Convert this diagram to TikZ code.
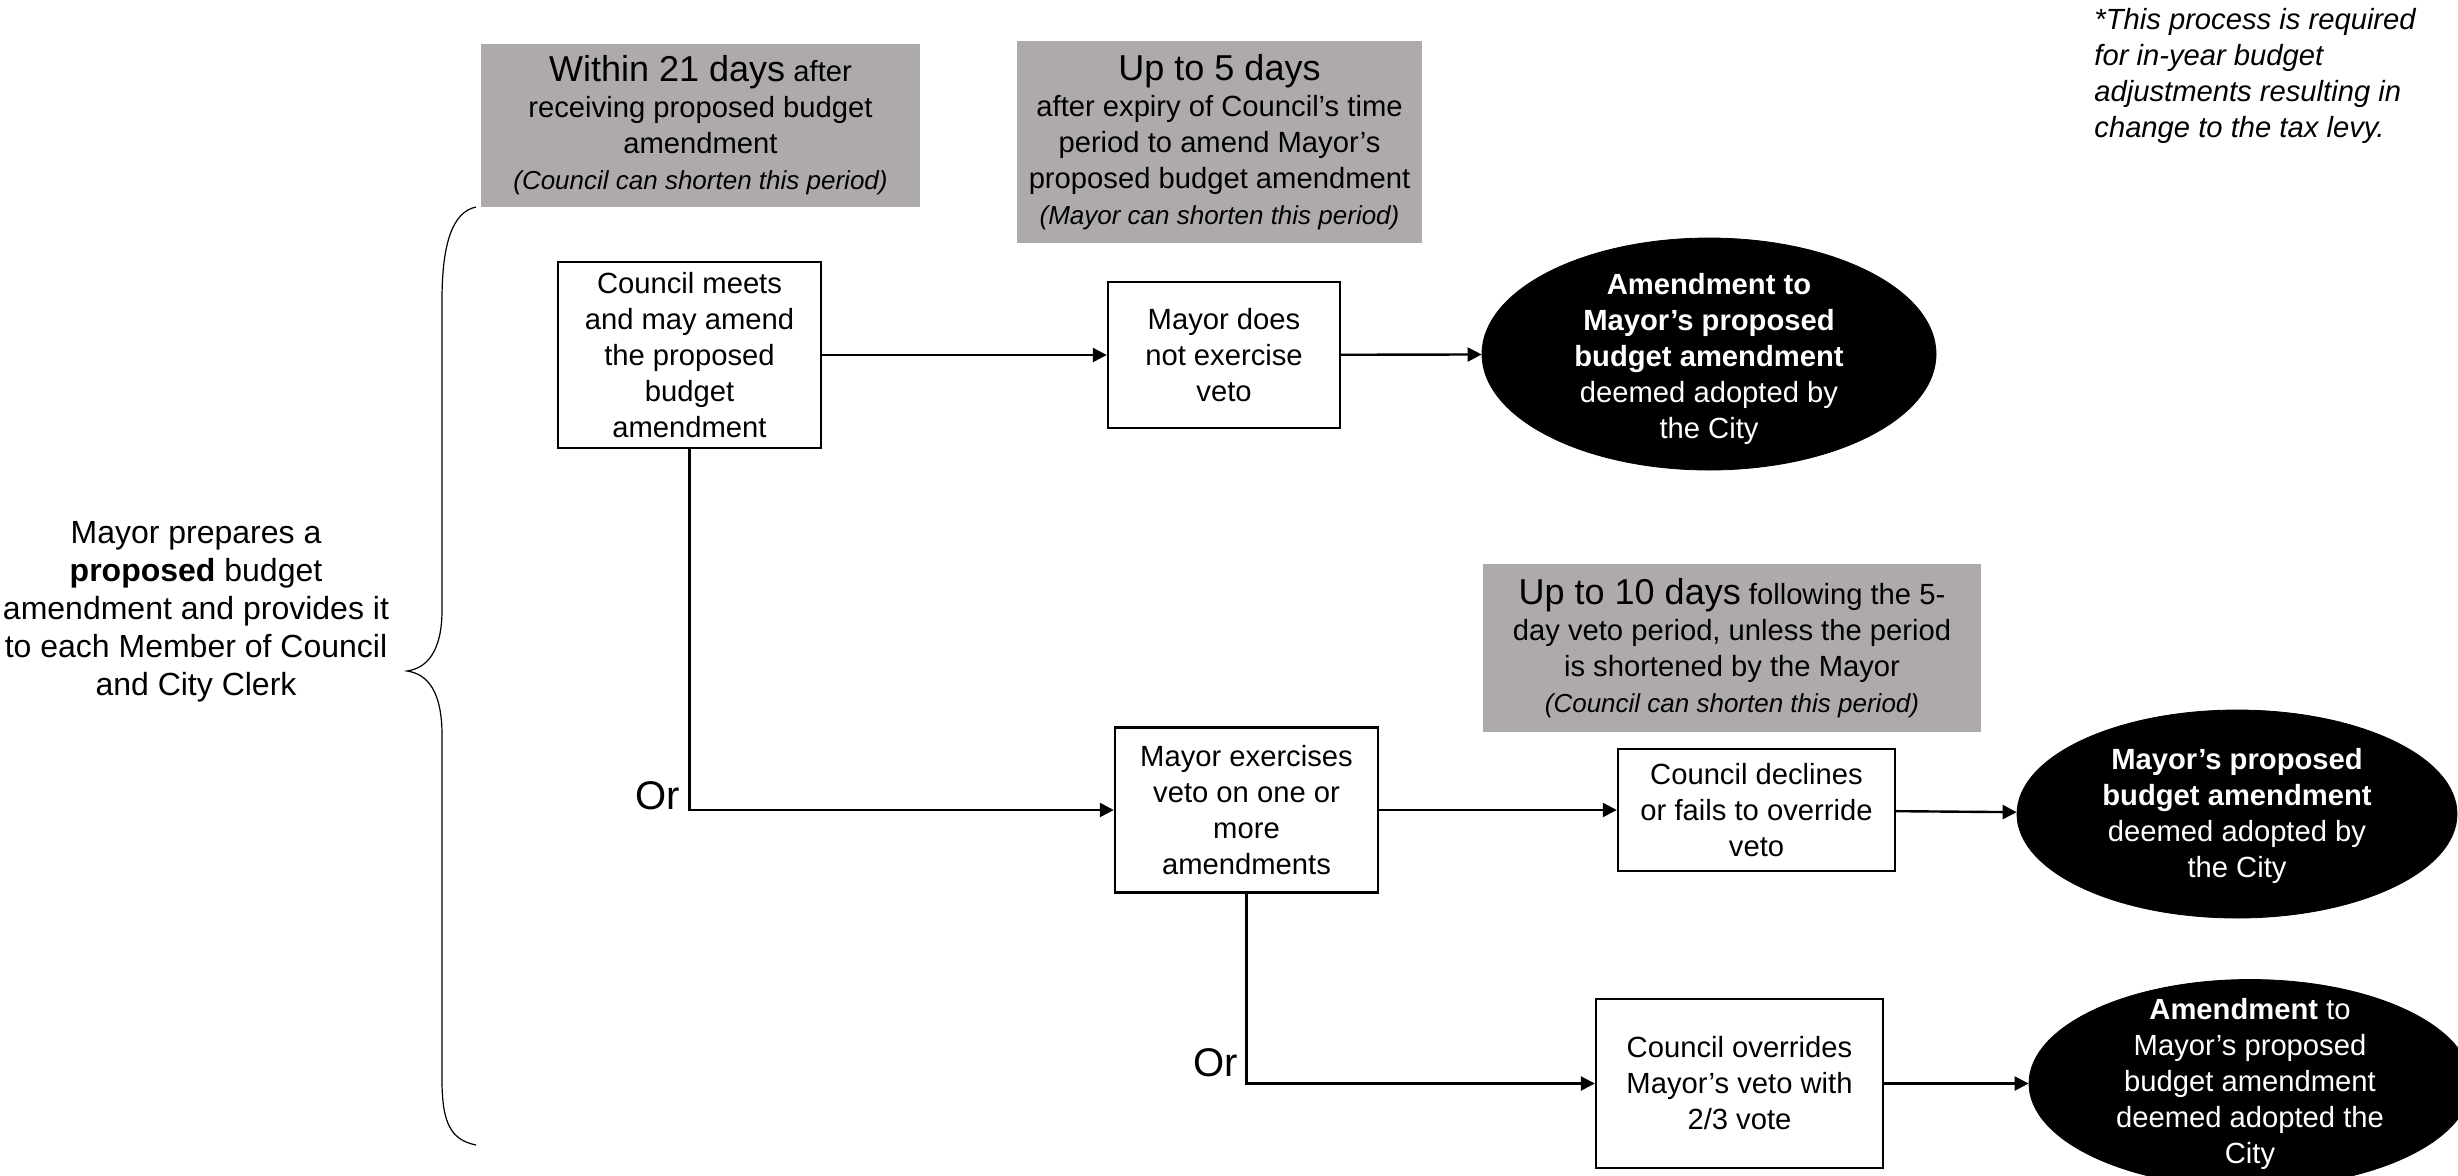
\documentclass[tikz,border=0pt]{standalone}
\usepackage{fontspec}
\setmainfont{Liberation Sans}
\usetikzlibrary{arrows.meta,shapes.geometric}
\definecolor{graybg}{HTML}{AEAAAA}
\begin{document}
\begin{tikzpicture}[x=0.5pt,y=-0.5pt,
  every node/.style={font=\fontsize{14.6}{18}\selectfont, align=center},
  graybox/.style={fill=graybg, inner sep=0pt},
  stepbox/.style={draw=black, line width=1.2pt, fill=white, inner sep=2pt},
  blob/.style={ellipse, fill=black, draw=black, inner sep=0pt},
  blobtext/.style={text=white, inner sep=0pt},
  conn/.style={line width=1.2pt, -{Triangle[length=7pt,width=7pt]}},
  orlabel/.style={font=\fontsize{20}{24}\selectfont, anchor=east, inner sep=0pt},
]
\useasboundingbox (0,0) rectangle (2458,1175);
\newcommand{\bigtxt}[1]{{\fontsize{18}{21}\selectfont #1}}
\newcommand{\smit}[1]{{\itshape\fontsize{13}{18}\selectfont #1}}

% gray timing boxes
\node[graybox, minimum width=219.5pt, minimum height=81.5pt] (g1) at (700.5,125.5)
  {\bigtxt{Within 21 days} after\\receiving proposed budget\\amendment\\\smit{(Council can shorten this period)}};
\node[graybox, minimum width=202.5pt, minimum height=101pt] (g2) at (1219.5,142)
  {\bigtxt{Up to 5 days}\\after expiry of Council’s time\\period to amend Mayor’s\\proposed budget amendment\\\smit{(Mayor can shorten this period)}};
\node[graybox, minimum width=249pt, minimum height=84pt] (g3) at (1732,648)
  {\bigtxt{Up to 10 days} following the 5-\\day veto period, unless the period\\is shortened by the Mayor\\\smit{(Council can shorten this period)}};

% footnote
\node[anchor=north west, inner sep=0pt, align=left, font=\itshape\fontsize{14.6}{18}\selectfont] (note) at (2094,8)
  {*This process is required\\for in-year budget\\adjustments resulting in\\change to the tax levy.};

% left text
\node[font=\fontsize{16}{19}\selectfont, inner sep=0pt] (start) at (196,612)
  {Mayor prepares a\\\textbf{proposed} budget\\amendment and provides it\\to each Member of Council\\and City Clerk};

% brace
\draw[line width=0.6pt] (476,207) .. controls (452,212) and (442,245) .. (442,300)
  -- (442,610) .. controls (442,650) and (428,668) .. (407,671)
  .. controls (428,674) and (442,692) .. (442,735)
  -- (442,1080) .. controls (442,1125) and (452,1140) .. (476,1145);

% process boxes
\node[stepbox, minimum width=131.5pt, minimum height=93pt] (b1) at (689.5,355)
  {Council meets\\and may amend\\the proposed\\budget\\amendment};
\node[stepbox, minimum width=116pt, minimum height=73pt] (b2) at (1224,355)
  {Mayor does\\not exercise\\veto};
\node[stepbox, minimum width=131.5pt, minimum height=82.5pt] (b3) at (1246.5,810)
  {Mayor exercises\\veto on one or\\more\\amendments};
\node[stepbox, minimum width=138.5pt, minimum height=61pt] (b4) at (1756.5,810)
  {Council declines\\or fails to override\\veto};
\node[stepbox, minimum width=143.5pt, minimum height=84.5pt] (b5) at (1739.5,1083.5)
  {Council overrides\\Mayor’s veto with\\2/3 vote};

% outcome ellipses
\node[blob, minimum width=227pt, minimum height=116pt] (e1) at (1709,354) {};
\node[blobtext] (t1) at ([yshift=-2.5pt]e1.center) {\textbf{Amendment to}\\\textbf{Mayor’s proposed}\\\textbf{budget amendment}\\deemed adopted by\\the City};
\node[blob, minimum width=220pt, minimum height=104pt] (e2) at (2237,814) {};
\node[blobtext] (t2) at ([yshift=-1pt]e2.center) {\textbf{Mayor’s proposed}\\\textbf{budget amendment}\\deemed adopted by\\the City};
\node[blob, minimum width=221pt, minimum height=104pt] (e3) at (2250,1083.5) {};
\node[blobtext] (t3) at (e3) {\textbf{Amendment} to\\Mayor’s proposed\\budget amendment\\deemed adopted the\\City};

% connectors
\draw[conn] (b1.east) -- (b2.west);
\draw[conn] (b2) -- (e1);
\draw[conn] (b1.south) |- (b3.west);
\draw[conn] (b3.east) -- (b4.west);
\draw[conn] (b4) -- (e2);
\draw[conn] (b3.south) |- (b5.west);
\draw[conn] (b5) -- (e3);

% Or labels
\node[orlabel] (or1) at (680,796) {Or};
\node[orlabel] (or2) at (1238,1063) {Or};
\end{tikzpicture}
\end{document}
